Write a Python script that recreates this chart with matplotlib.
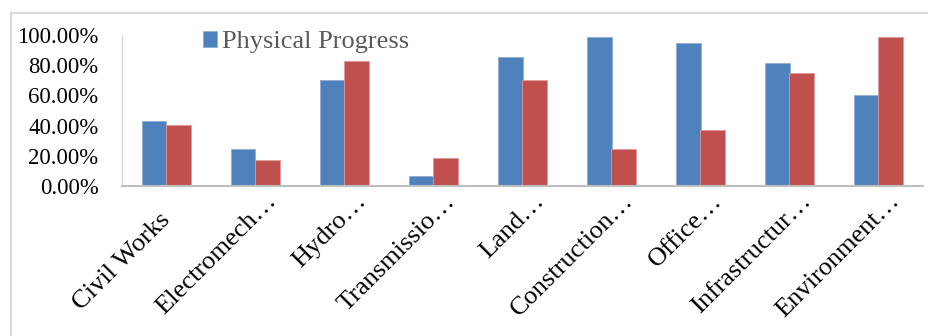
import matplotlib.pyplot as plt
import matplotlib.transforms as mtransforms
from matplotlib.patches import Rectangle
import numpy as np

# Категории и значения прогресса (доли)
categories = ['Civil Works', 'Electromech…', 'Hydro…', 'Transmissio…', 'Land…',
              'Construction…', 'Office…', 'Infrastructur…', 'Environment…']
physical = [0.43, 0.245, 0.703, 0.066, 0.851, 0.986, 0.944, 0.812, 0.60]
financial = [0.402, 0.175, 0.828, 0.183, 0.703, 0.243, 0.371, 0.748, 0.989]
yticks = [0.0, 0.2, 0.4, 0.6, 0.8, 1.0]

blue = '#4F81BD'
red = '#C0504D'

plt.rcParams['font.family'] = ['Liberation Serif', 'DejaVu Serif']

W, H = 929, 336
fig = plt.figure(figsize=(W / 100, H / 100), dpi=100)

# Серая рамка вокруг области диаграммы
fig.patches.append(Rectangle((11 / W, -0.2), 1.2, 0.2 + 1 - 13 / H,
                             transform=fig.transFigure, fill=False,
                             edgecolor='#D9D9D9', linewidth=1.5))

ax = fig.add_axes([122 / W, 1 - 186 / H, 801 / W, 151 / H])

x = np.arange(len(categories))
bw = 0.28
b1 = ax.bar(x - bw / 2, physical, bw, color=blue, edgecolor='#8EADD6', linewidth=0.6)
ax.bar(x + bw / 2, financial, bw, color=red, edgecolor='#DE9A98', linewidth=0.6)

ax.set_xlim(-0.5, len(categories) - 0.5)
ax.set_ylim(0, 1.0)
ax.set_yticks(yticks)
ax.set_yticklabels(['{:.2f}%'.format(v * 100) for v in yticks], fontsize=16.4)
ax.tick_params(axis='y', length=0, pad=17)
ax.set_xticks([])

for s in ['top', 'right']:
    ax.spines[s].set_visible(False)
ax.spines['left'].set_color('#D9D9D9')
ax.spines['left'].set_linewidth(1.0)
ax.spines['bottom'].set_color('#BFBFBF')
ax.spines['bottom'].set_linewidth(1.5)

# Повёрнутые подписи категорий
trans = mtransforms.blended_transform_factory(ax.transData, ax.transAxes)
for i, lab in enumerate(categories):
    if lab.endswith('…'):
        dx, dy = 0.25, -0.106
    else:
        dx, dy = 0.047, -0.232
    ax.text(i + dx, dy, lab, transform=trans, rotation=45, rotation_mode='anchor',
            ha='right', va='baseline', fontsize=19, color='black')

leg = ax.legend([b1], ['Physical Progress'], loc='upper left',
                bbox_to_anchor=(70 / 801, 1.095), frameon=False, fontsize=19,
                handlelength=0.55, handleheight=0.55, handletextpad=0.2,
                borderaxespad=0)
for t in leg.get_texts():
    t.set_color('#595959')

fig.savefig('out.png', dpi=100)
